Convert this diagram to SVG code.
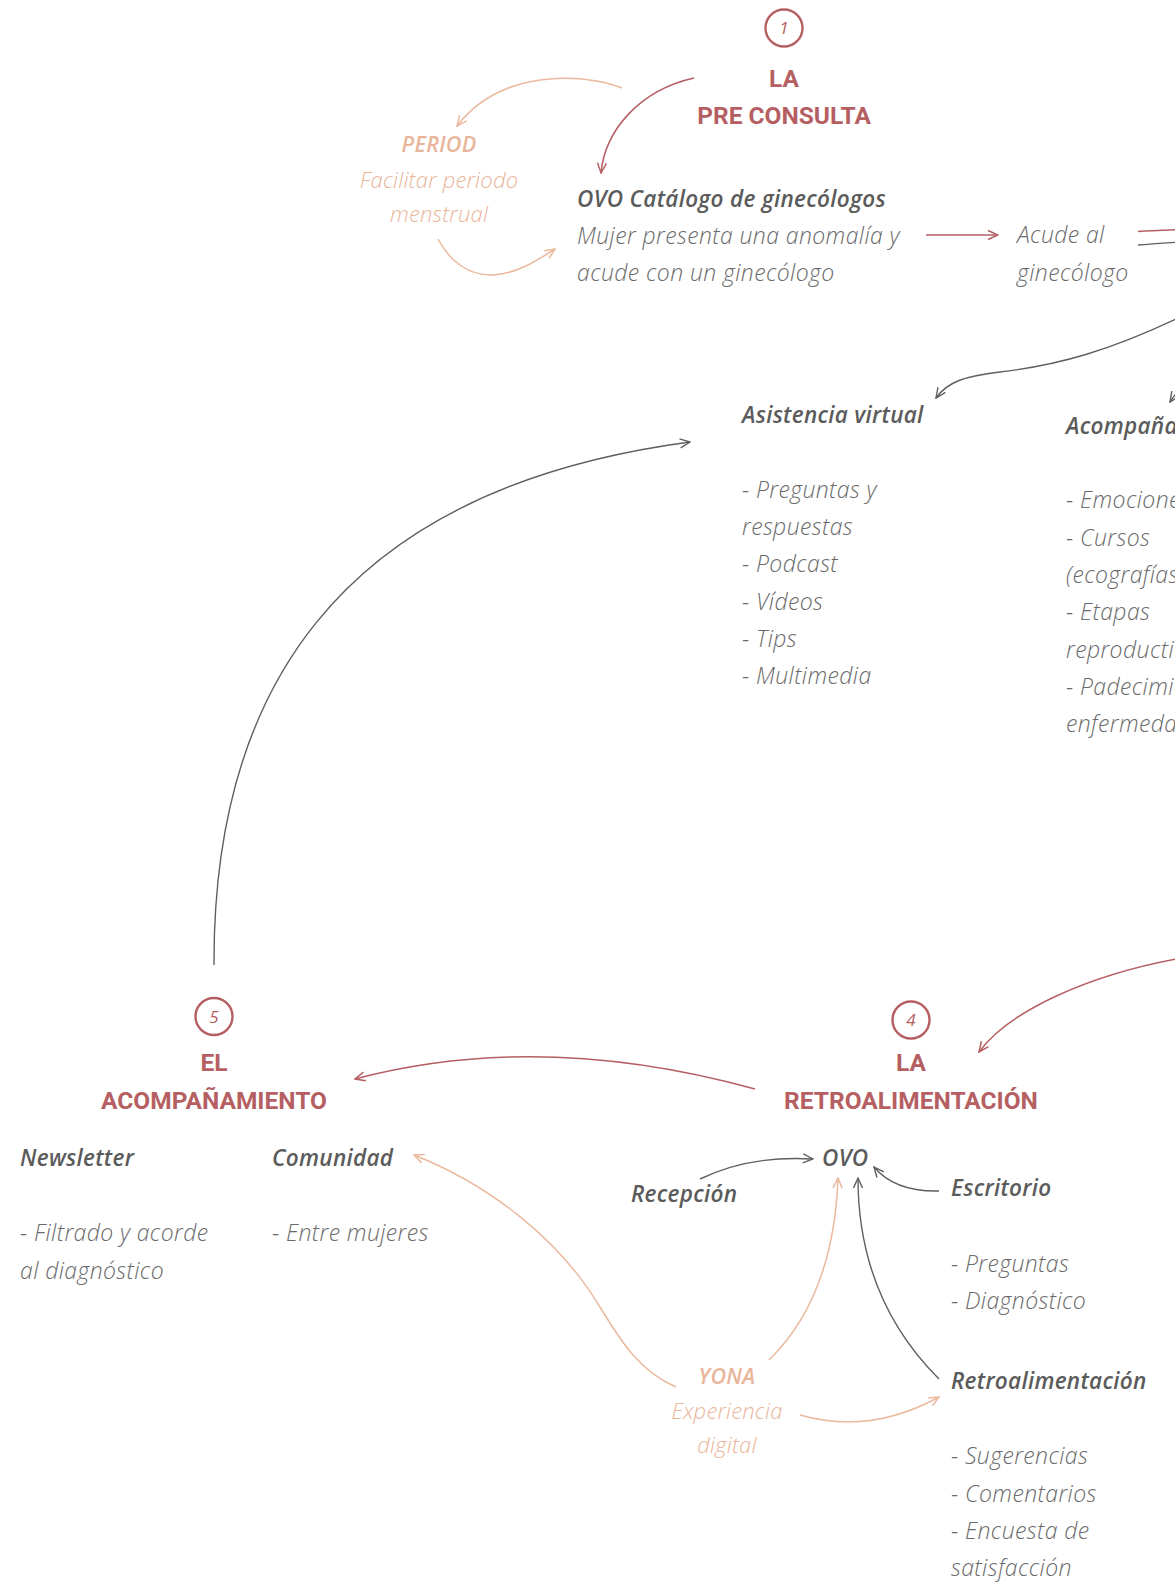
<svg xmlns="http://www.w3.org/2000/svg" width="1175" height="1595" viewBox="0 0 1175 1595">
<defs>
<style>
text{font-family:"Open Sans",Roboto,"Noto Sans","Liberation Sans",sans-serif}
.title{font-family:Roboto,"Open Sans","Liberation Sans",sans-serif;font-weight:700;font-size:24.5px;fill:#b65f63;text-anchor:middle}
.h{font-weight:600;font-style:italic;font-size:22.5px;letter-spacing:0.3px;fill:#5b5b5b}
.b{font-weight:300;font-style:italic;font-size:23px;letter-spacing:0.4px;fill:#6a6a6a}
.ph{font-weight:600;font-style:italic;font-size:21.5px;letter-spacing:0.3px;fill:#e9b59a;text-anchor:middle}
.pb{font-weight:300;font-style:italic;font-size:22px;letter-spacing:0.2px;fill:#e9b59a;text-anchor:middle}
.num{font-weight:400;font-style:italic;font-size:17px;fill:#b65f63;text-anchor:middle}
.circ{fill:#fff;stroke:#b65f63;stroke-width:2.4}
.cr{fill:none;stroke:#b65f63;stroke-width:1.5;marker-end:url(#ar)}
.cd{fill:none;stroke:#5f5f5f;stroke-width:1.4;marker-end:url(#ad)}
.cp{fill:none;stroke:#ebb99e;stroke-width:1.5;marker-end:url(#ap)}
.nm{marker-end:none}
</style>
<marker id="ar" viewBox="0 0 12 12" refX="11" refY="6" markerWidth="12" markerHeight="12" markerUnits="userSpaceOnUse" orient="auto"><path d="M1,1.5 L11,6 L1,10.5" fill="none" stroke="#b65f63" stroke-width="1.5"/></marker>
<marker id="ad" viewBox="0 0 12 12" refX="11" refY="6" markerWidth="12" markerHeight="12" markerUnits="userSpaceOnUse" orient="auto"><path d="M1,1.5 L11,6 L1,10.5" fill="none" stroke="#5f5f5f" stroke-width="1.4"/></marker>
<marker id="ap" viewBox="0 0 12 12" refX="11" refY="6" markerWidth="12" markerHeight="12" markerUnits="userSpaceOnUse" orient="auto"><path d="M1,1.5 L11,6 L1,10.5" fill="none" stroke="#ebb99e" stroke-width="1.5"/></marker>
</defs>
<rect width="1175" height="1595" fill="#ffffff"/>

<g id="connectors">
<path class="cp" d="M622 88 C580 72 500 70 457 126"/>
<path class="cr" d="M694 78 C640 90 605 130 601 173"/>
<path class="cp" d="M438 239 C450 262 470 276 493 275 C515 274 535 262 555 249"/>
<path class="cr" d="M926 235 L998 235"/>
<path class="cr nm" d="M1138 231.5 C1150 230.5 1165 230 1180 229.5"/>
<path class="cd nm" d="M1138 245 C1150 244 1165 243 1180 242"/>
<path class="cd" d="M1176 319 C1110 350 1060 365 1000 372 C965 376 947 382 936 398"/>
<path class="cd" d="M1182 386 Q1176 393 1170 402"/>
<path class="cd" d="M214 965 C213 700 330 490 690 442"/>
<path class="cr" d="M1176 959 C1090 975 1010 1010 979 1052"/>
<path class="cr" d="M755 1089 Q540 1030 355 1079"/>
<path class="cd" d="M700 1179 Q750 1155 813 1159"/>
<path class="cd" d="M939 1191 Q895 1192 874 1167"/>
<path class="cd" d="M939 1379 C880 1320 858 1250 858 1178"/>
<path class="cp" d="M769 1360 C810 1320 835 1260 838 1178"/>
<path class="cp" d="M676 1387 C640 1372 620 1340 600 1307 C560 1240 490 1185 414 1155"/>
<path class="cp" d="M800 1415 Q870 1435 939 1397"/>
</g>

<g id="step1">
<circle class="circ" cx="784" cy="28" r="18.5"/>
<text class="num" x="784" y="34">1</text>
<text class="title" x="784" y="87">LA</text>
<text class="title" x="784" y="124">PRE CONSULTA</text>
</g>

<g id="period">
<text class="ph" x="439" y="152">PERIOD</text>
<text class="pb" x="439" y="188">Facilitar periodo</text>
<text class="pb" x="439" y="222">menstrual</text>
</g>

<g id="ovo-catalogo">
<text class="h" x="577" y="207">OVO Catálogo de ginecólogos</text>
<text class="b" x="577" y="244">Mujer presenta una anomalía y</text>
<text class="b" x="577" y="281">acude con un ginecólogo</text>
</g>

<g id="acude">
<text class="b" x="1017" y="243">Acude al</text>
<text class="b" x="1017" y="281">ginecólogo</text>
</g>

<g id="asistencia">
<text class="h" x="742" y="423">Asistencia virtual</text>
<text class="b" x="742" y="498">- Preguntas y</text>
<text class="b" x="742" y="535">respuestas</text>
<text class="b" x="742" y="572">- Podcast</text>
<text class="b" x="742" y="610">- Vídeos</text>
<text class="b" x="742" y="647">- Tips</text>
<text class="b" x="742" y="684">- Multimedia</text>
</g>

<g id="acompanamiento-virtual">
<text class="h" x="1066" y="434">Acompañamiento</text>
<text class="b" x="1066" y="508">- Emociones</text>
<text class="b" x="1066" y="546">- Cursos</text>
<text class="b" x="1066" y="583">(ecografías</text>
<text class="b" x="1066" y="620">- Etapas</text>
<text class="b" x="1066" y="658">reproductivas</text>
<text class="b" x="1066" y="695">- Padecimientos</text>
<text class="b" x="1066" y="732">enfermedades</text>
</g>

<g id="step5">
<circle class="circ" cx="214" cy="1016.5" r="18.5"/>
<text class="num" x="214" y="1022.5">5</text>
<text class="title" x="214" y="1071">EL</text>
<text class="title" x="214" y="1109">ACOMPAÑAMIENTO</text>
</g>

<g id="newsletter">
<text class="h" x="20" y="1166">Newsletter</text>
<text class="b" x="20" y="1241">- Filtrado y acorde</text>
<text class="b" x="20" y="1279">al diagnóstico</text>
</g>

<g id="comunidad">
<text class="h" x="272" y="1166">Comunidad</text>
<text class="b" x="272" y="1241">- Entre mujeres</text>
</g>

<g id="step4">
<circle class="circ" cx="911" cy="1020" r="18.5"/>
<text class="num" x="911" y="1026">4</text>
<text class="title" x="911" y="1071">LA</text>
<text class="title" x="911" y="1109">RETROALIMENTACIÓN</text>
</g>

<g id="ovo">
<text class="h" x="822" y="1166">OVO</text>
</g>

<g id="recepcion">
<text class="h" x="631" y="1202">Recepción</text>
</g>

<g id="escritorio">
<text class="h" x="951" y="1196">Escritorio</text>
<text class="b" x="951" y="1272">- Preguntas</text>
<text class="b" x="951" y="1309">- Diagnóstico</text>
</g>

<g id="retroalimentacion">
<text class="h" x="951" y="1389">Retroalimentación</text>
<text class="b" x="951" y="1464">- Sugerencias</text>
<text class="b" x="951" y="1502">- Comentarios</text>
<text class="b" x="951" y="1539">- Encuesta de</text>
<text class="b" x="951" y="1576">satisfacción</text>
</g>

<g id="yona">
<text class="ph" x="727" y="1384">YONA</text>
<text class="pb" x="727" y="1419">Experiencia</text>
<text class="pb" x="727" y="1453">digital</text>
</g>
</svg>
